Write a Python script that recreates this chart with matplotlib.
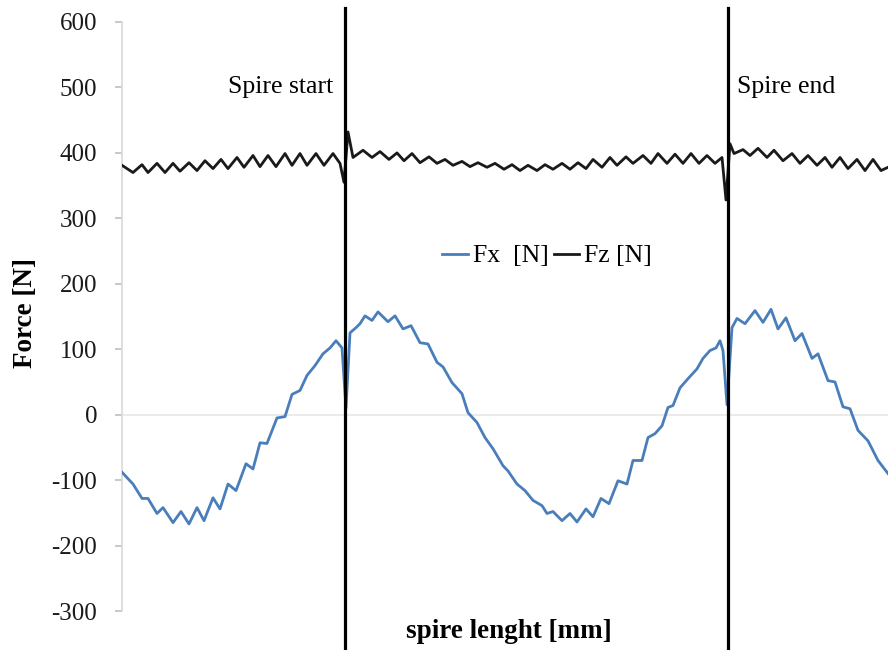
import matplotlib
matplotlib.use('Agg')
import matplotlib.pyplot as plt

plt.rcParams['font.family'] = ['Liberation Serif', 'DejaVu Serif']
plt.rcParams['axes.unicode_minus'] = False

# Position along the spire (arbitrary units, no tick labels in the source)
fx_pos = [122, 133, 142, 148, 157, 163, 173, 181, 189, 197, 204, 213, 220, 228, 236,
          246, 253, 260, 267, 277, 285, 292, 300, 307, 315, 323, 330, 336, 342, 346,
          350, 356, 360, 365, 372, 378, 388, 395, 403, 411, 420, 428, 437, 443, 452,
          462, 468, 477, 485, 493, 503, 508, 517, 525, 533, 542, 547, 553, 562, 570,
          577, 586, 593, 601, 609, 618, 627, 633, 642, 648, 655, 662, 668, 673, 680,
          688, 697, 703, 710, 716, 720, 723, 727, 732, 737, 745, 755, 763, 771, 778,
          786, 795, 802, 812, 818, 828, 835, 843, 850, 858, 868, 878, 888]
fx_val = [-88, -106, -128, -128, -151, -142, -165, -148, -167, -142, -162, -127, -144, -106, -116,
          -75, -83, -43, -44, -5, -3, 31, 37, 60, 75, 93, 102, 113, 102, 10,
          125, 133, 139, 151, 144, 157, 142, 151, 131, 136, 110, 108, 80, 73, 49,
          32, 3, -12, -35, -52, -78, -86, -106, -116, -131, -139, -151, -148, -162, -151,
          -164, -144, -156, -128, -136, -101, -106, -70, -70, -35, -29, -17, 11, 14, 41,
          55, 70, 86, 98, 102, 113, 98, 15, 133, 147, 139, 159, 141, 161, 131,
          148, 113, 124, 86, 93, 52, 50, 12, 9, -24, -40, -70, -90]

fz_pos = [122, 133, 142, 148, 157, 165, 173, 180, 189, 197, 205, 213, 221, 228, 237,
          244, 253, 260, 268, 276, 285, 292, 300, 307, 316, 324, 333, 340, 344, 348,
          353, 363, 372, 380, 389, 397, 404, 412, 420, 429, 437, 445, 453, 462, 470,
          478, 487, 495, 504, 512, 520, 528, 537, 545, 553, 562, 570, 578, 586, 593,
          602, 610, 617, 626, 633, 643, 651, 658, 667, 675, 683, 691, 699, 707, 715,
          722, 726, 730, 734, 743, 750, 758, 767, 774, 783, 792, 800, 808, 817, 825,
          832, 840, 848, 857, 865, 873, 881, 888]
fz_val = [381, 370, 382, 370, 384, 370, 384, 372, 385, 373, 388, 376, 390, 376, 393,
          378, 396, 379, 396, 379, 399, 381, 399, 381, 399, 381, 399, 384, 355, 432,
          393, 404, 393, 402, 390, 400, 388, 399, 385, 394, 384, 390, 381, 387, 379,
          385, 378, 384, 375, 382, 373, 381, 373, 382, 375, 384, 375, 385, 376, 390,
          378, 393, 381, 394, 384, 396, 384, 399, 384, 398, 384, 399, 384, 396, 384,
          393, 328, 414, 399, 405, 396, 407, 393, 404, 388, 399, 384, 396, 381, 393,
          378, 393, 376, 390, 373, 390, 373, 378]

marker_pos = [345, 728]
marker_labels = ['Spire start', 'Spire end']
y_ticks = [-300, -200, -100, 0, 100, 200, 300, 400, 500, 600]

fig = plt.figure(figsize=(8.88, 6.5), dpi=100)
ax = fig.add_axes([122 / 888, 39 / 650, 766 / 888, 589 / 650])
ax.set_xlim(122, 888)
ax.set_ylim(-300, 600)

ax.axhline(0, color='#ebebeb', lw=1.5, zorder=1)
ax.plot(fx_pos, fx_val, color='#4a7ebb', lw=2, label='Fx  [N]', zorder=3,
        solid_joinstyle='round')
ax.plot(fz_pos, fz_val, color='#1a1a1a', lw=2, label='Fz [N]', zorder=3,
        solid_joinstyle='round')

for p in marker_pos:
    ax.plot([p, p], [-360, 621], color='black', lw=2.3, clip_on=False, zorder=4)

ax.text(marker_pos[0] - 12, 500, marker_labels[0], ha='right', va='center', fontsize=18.5)
ax.text(marker_pos[1] + 9, 500, marker_labels[1], ha='left', va='center', fontsize=18.5)

for s in ['top', 'right', 'bottom']:
    ax.spines[s].set_visible(False)
ax.spines['left'].set_color('#d9d9d9')
ax.spines['left'].set_linewidth(1.2)
ax.set_yticks(y_ticks)
ax.set_xticks([])
ax.tick_params(axis='y', length=5, color='#bfbfbf', width=1.2, labelsize=18, pad=13,
               labelcolor='#1a1a1a')

fig.text(25 / 888, 1 - 313 / 650, 'Force [N]', rotation=90, ha='center', va='center',
         fontsize=19.5, fontweight='bold')
fig.text(509 / 888, 1 - 632 / 650, 'spire lenght [mm]', ha='center', va='center',
         fontsize=19.5, fontweight='bold')

ax.legend(loc='center', bbox_to_anchor=(547 / 888, 1 - 256 / 650),
          bbox_transform=fig.transFigure, ncol=2, frameon=False, handlelength=1.0,
          handletextpad=0.2, columnspacing=0.2, fontsize=18.5)

fig.savefig('out.png', dpi=100)
